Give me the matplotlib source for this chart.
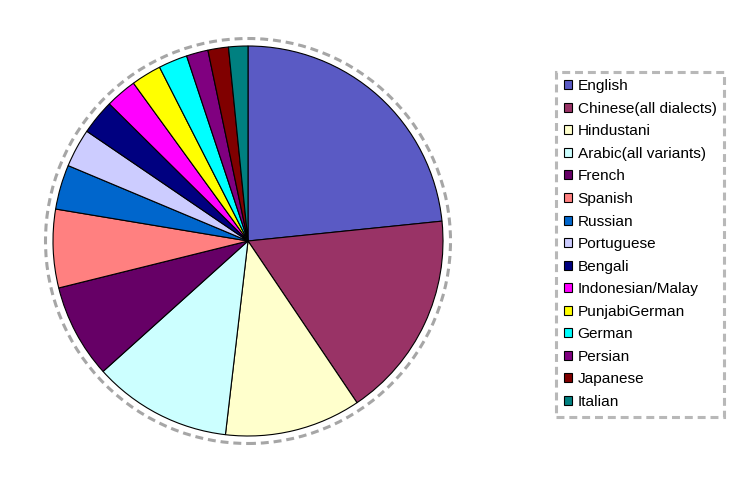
import matplotlib
matplotlib.use("Agg")
import matplotlib.pyplot as plt
from matplotlib.patches import Circle

plt.rcParams['font.family'] = ['Liberation Sans', 'DejaVu Sans']

# Share of speakers by language (percent)
languages = ["English", "Chinese(all dialects)", "Hindustani", "Arabic(all variants)",
             "French", "Spanish", "Russian", "Portuguese", "Bengali",
             "Indonesian/Malay", "PunjabiGerman", "German", "Persian", "Japanese", "Italian"]
shares = [23.4, 17.2, 11.3, 11.5, 7.8, 6.5, 3.7, 3.2, 2.9, 2.6, 2.5, 2.4, 1.8, 1.7, 1.6]
colors = ["#5A5AC4", "#993366", "#FFFFCC", "#CCFFFF", "#660066", "#FF8080",
          "#0066CC", "#CCCCFF", "#000080", "#FF00FF", "#FFFF00", "#00FFFF",
          "#800080", "#800000", "#008080"]

W, H = 747, 482
fig = plt.figure(figsize=(W / 100, H / 100), dpi=100)
ax = fig.add_axes([0, 0, 1, 1])
ax.set_xlim(0, W)
ax.set_ylim(0, H)
ax.set_aspect('equal')
ax.axis('off')

cx, cy, r = 248, H - 241, 195
wedges, _ = ax.pie(shares, colors=colors, startangle=90, counterclock=False,
                   center=(cx, cy), radius=r,
                   wedgeprops=dict(edgecolor='black', linewidth=0.8))
ax.set_xlim(0, W)
ax.set_ylim(0, H)

ring = Circle((cx, cy), 202.5, fill=False, edgecolor='#A6A6A6',
              linewidth=2.2, linestyle=(0, (2.6, 1.6)))
ax.add_patch(ring)

leg = fig.legend(wedges, languages, loc='upper left',
                 bbox_to_anchor=(556 / W, 1 - 71.5 / H), borderaxespad=0,
                 fontsize=11.1, handlelength=0.52, handleheight=0.52,
                 handletextpad=0.38, labelspacing=0.555, borderpad=0.5,
                 fancybox=False, frameon=True)
frame = leg.get_frame()
frame.set_edgecolor('#A6A6A6')
frame.set_linewidth(2.2)
frame.set_linestyle((0, (2.6, 1.6)))
for h in leg.legend_handles:
    h.set_edgecolor('black')
    h.set_linewidth(0.8)

fig.savefig('out.png', dpi=100)
